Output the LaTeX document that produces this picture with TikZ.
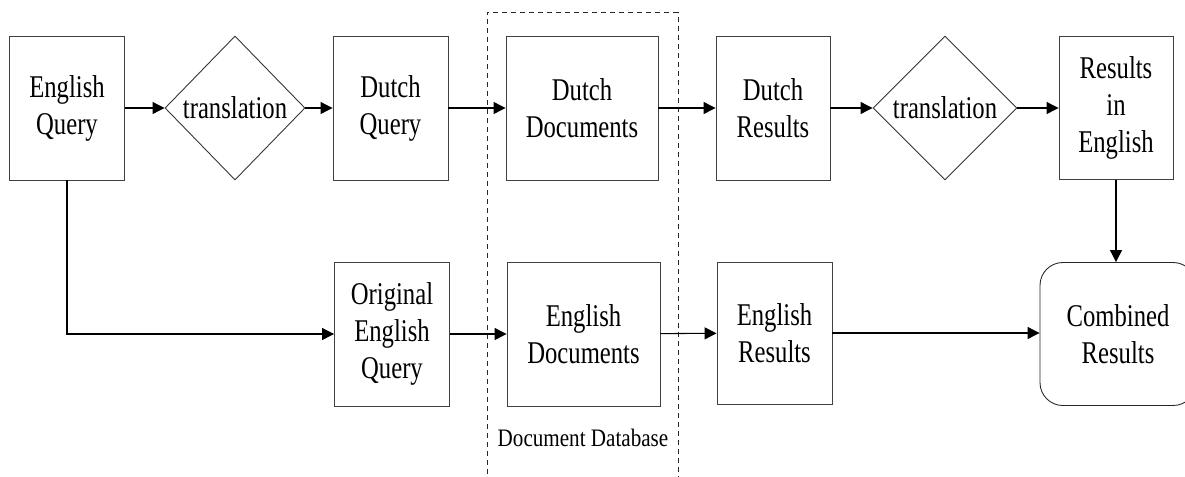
\documentclass[tikz,border=0pt]{standalone}
\usepackage{fontspec}
\setmainfont{Liberation Serif}[FakeStretch=0.78]
\newfontfamily\dbfont{Liberation Serif}[FakeStretch=0.84]
\usetikzlibrary{arrows.meta,positioning,shapes.geometric}
\tikzset{
  blk/.style={draw=black!75,line width=0.5pt,align=center,inner sep=2pt,
              minimum width=2.3cm,minimum height=2.88cm},
  dec/.style={draw=black!80,diamond,line width=0.5pt,aspect=1,inner sep=0pt,
              minimum width=2.8cm,minimum height=2.88cm},
  comb/.style={draw=black!85,rounded corners=13pt,line width=0.5pt,align=center,
              minimum width=3.12cm,minimum height=2.86cm},
  dbfr/.style={draw=black!85,dash pattern=on 1mm off 0.8mm,line width=0.5pt,
              minimum width=3.82cm,minimum height=9.5cm},
  sig/.style={-{Triangle[length=2.4mm,width=2.4mm]},line width=0.6pt}
}
\begin{document}
\begin{tikzpicture}[every node/.style={font=\fontsize{18}{21}\selectfont}]
  \useasboundingbox (0,0) rectangle (23.7,-9.52);
  % ---- document database frame ----
  \node[dbfr] (db) at (11.65,-5.0) {};
  \node[font=\dbfont\fontsize{14.3}{16}\selectfont] (dblab) at (11.66,-8.76) {Document Database};
  % ---- upper row: translated query ----
  \node[blk] (eq) at (1.34,-2.16) {English\\ Query};
  \node[dec] (tra) at (4.7,-2.16) {translation};
  \node[blk] (dq) at (7.81,-2.16) {Dutch\\ Query};
  \node[blk,minimum width=3.04cm] (dd) at (11.64,-2.16) {Dutch\\ Documents};
  \node[blk,minimum width=2.28cm] (dr) at (15.46,-2.16) {Dutch\\ Results};
  \node[dec,minimum width=2.88cm] (trb) at (18.9,-2.16) {translation};
  \node[blk,minimum width=2.28cm,minimum height=2.86cm] (re) at (22.32,-2.16) {Results\\ in\\ English};
  % ---- lower row: original query ----
  \node[blk] (oeq) at (7.84,-6.68) {Original\\ English\\ Query};
  \node[blk,minimum width=3.06cm] (ed) at (11.67,-6.68) {English\\ Documents};
  \node[blk,minimum height=2.84cm] (er) at (15.49,-6.66) {English\\ Results};
  \node[comb] (cr) at (22.36,-6.68) {Combined\\ Results};
  % forward wires
  \draw[sig] (eq) -- (tra);
  \draw[sig] (tra) -- (dq);
  \draw[sig] (dq) -- (dd);
  \draw[sig] (dd) -- (dr);
  \draw[sig] (dr) -- (trb);
  \draw[sig] (trb) -- (re);
  \draw[sig] (eq.south) |- (oeq.west);
  \draw[sig] (oeq) -- (ed);
  \draw[sig] (ed) -- (er);
  \draw[sig] (er.east) -- (er.east -| cr.west);
  \draw[sig] (re.south) -- (re.south |- cr.north);
\end{tikzpicture}
\end{document}
